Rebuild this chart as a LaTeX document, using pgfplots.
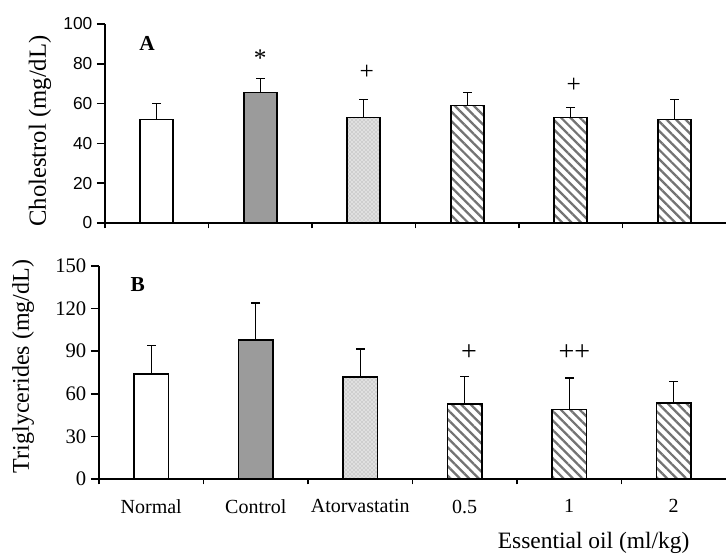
\documentclass[border=0pt]{standalone}
\usepackage{pgfplots}
\pgfplotsset{compat=1.18}
\usetikzlibrary{patterns,patterns.meta}
\usepackage{fontspec}
\setmainfont{Liberation Serif}
\newfontfamily\sansf{Liberation Sans}
\definecolor{ctrlgray}{RGB}{155,155,155}
\definecolor{stripe}{RGB}{115,115,115}
\pgfplotsset{
  panel/.style={scale only axis, axis x line*=bottom, axis y line*=left,
    axis line style={line width=1.1pt, black},
    xmin=-0.5, xmax=5.5, ymin=0,
    xtick={0,...,5}, minor xtick={-0.5,0.5,1.5,2.5,3.5,4.5},
    major x tick style={draw=none},
    minor x tick style={line width=1.1pt, black},
    y tick style={line width=1.1pt, black},
    tick align=outside, major tick length=6pt, minor tick length=4pt,
    /pgf/number format/assume math mode=true,
    clip=false},
  bbase/.style={ybar, bar shift=0pt, draw=black, line width=1.2pt,
    error bars/y dir=plus, error bars/y explicit,
    error bars/error mark=none,
    error bars/error bar style={line width=1.1pt, black}},
  bnormal/.style={bbase, fill=white},
  bcontrol/.style={bbase, fill=ctrlgray},
  bator/.style={bbase, fill=gray!24, postaction={pattern=crosshatch dots, pattern color=gray!80}},
  boil/.style={bbase, fill=white, postaction={pattern={Lines[angle=-45,distance=5pt,line width=1.7pt]}, pattern color=stripe}},
  caps/.style={only marks, mark=-, mark size=3.2pt, mark options={line width=1.1pt, black}},
}
\begin{document}
\begin{tikzpicture}[x=1pt,y=1pt]
\path[use as bounding box] (0,0) rectangle (544.5,417);
% Panel A
\begin{axis}[panel, at={(78.75pt,249.75pt)}, anchor=south west,
  width=465.75pt, height=149.25pt, bar width=24.75pt,
  ymax=100, ytick={0,20,...,100}, xticklabels={},
  yticklabel style={font=\sansf\fontsize{13}{14}\selectfont},
  ylabel={Cholestrol (mg/dL)},
  ylabel style={at={(axis description cs:-0.1047,0.462)}, anchor=center, font=\fontsize{18.5}{20}\selectfont}]
\addplot[bnormal] coordinates {(0,52) +- (0,8)};
\addplot[bcontrol] coordinates {(1,65.5) +- (0,7)};
\addplot[bator] coordinates {(2,53) +- (0,9)};
\addplot[boil] coordinates {(3,59) +- (0,6.5)};
\addplot[boil] coordinates {(4,53) +- (0,5)};
\addplot[boil] coordinates {(5,52) +- (0,10)};
\addplot[caps] coordinates {(0,60) (1,72.5) (2,62) (3,65.5) (4,58) (5,62)};
\node[font=\bfseries\fontsize{16}{18}\selectfont] at (axis cs:-0.094,90) {A};
\node[font=\fontsize{19}{20}\selectfont] at (axis cs:1,82.7) {*};
\node[font=\fontsize{19}{20}\selectfont] at (axis cs:2.03,75.5) {+};
\node[font=\fontsize{19}{20}\selectfont] at (axis cs:4.03,69) {+};
\end{axis}
% Panel B
\begin{axis}[panel, at={(74.25pt,57.75pt)}, anchor=south west,
  width=470.25pt, height=159.75pt, bar width=26pt,
  ymax=150, ytick={0,30,...,150},
  xticklabels={Normal,Control,Atorvastatin,0.5,1,2},
  xticklabel style={font=\fontsize{15}{16}\selectfont, yshift=-6pt},
  yticklabel style={font=\fontsize{15.5}{16}\selectfont},
  ylabel={Triglycerides (mg/dL)},
  ylabel style={at={(axis description cs:-0.121,0.528)}, anchor=center, font=\fontsize{18}{20}\selectfont}]
\addplot[bnormal] coordinates {(0,74) +- (0,20)};
\addplot[bcontrol] coordinates {(1,98) +- (0,26)};
\addplot[bator] coordinates {(2,72) +- (0,19.5)};
\addplot[boil] coordinates {(3,53) +- (0,19)};
\addplot[boil] coordinates {(4,49) +- (0,22)};
\addplot[boil] coordinates {(5,53.5) +- (0,15)};
\addplot[caps] coordinates {(0,94) (1,124) (2,91.5) (3,72) (4,71) (5,68.5)};
\node[font=\bfseries\fontsize{16}{18}\selectfont] at (axis cs:-0.13,137) {B};
\node[font=\fontsize{21}{22}\selectfont] at (axis cs:3.04,88.7) {+};
\node[font=\fontsize{21}{22}\selectfont] at (axis cs:4.05,88.7) {++};
\node[font=\fontsize{17.6}{20}\selectfont] at (axis description cs:0.789,-0.30) {Essential oil (ml/kg)};
\end{axis}
\end{tikzpicture}
\end{document}
